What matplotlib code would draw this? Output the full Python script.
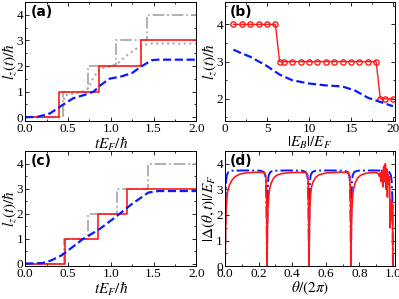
import matplotlib
matplotlib.use("Agg")
import matplotlib.pyplot as plt
from matplotlib.ticker import MultipleLocator

plt.rcParams['font.family'] = ['Liberation Serif', 'DejaVu Serif']
plt.rcParams['mathtext.fontset'] = 'stix'

# ---- panel (a) ----
a_red_t = [0, 0.40, 0.40, 0.865, 0.865, 1.35, 1.35, 2.0]
a_red_l = [0, 0, 1, 1, 2, 2, 3, 3]
a_dd_t = [0, 0.44, 0.44, 0.73, 0.73, 1.06, 1.06, 1.42, 1.42, 2.0]
a_dd_l = [0, 0, 1, 1, 2, 2, 3, 3, 4, 4]
a_dot_t = [0, 0.44, 0.46, 0.6, 0.72, 0.8, 0.87, 1.0, 1.08, 1.2, 1.33, 1.45, 2.0]
a_dot_l = [0, 0, 0.85, 0.95, 1.05, 1.55, 1.9, 2.0, 2.1, 2.45, 2.75, 2.88, 2.88]
a_blue_t = [0, 0.15, 0.29, 0.42, 0.56, 0.69, 0.8, 0.87, 0.98, 1.13, 1.25, 1.35, 1.48, 1.55, 2.0]
a_blue_l = [0, 0.02, 0.15, 0.44, 0.74, 0.87, 1.0, 1.22, 1.5, 1.6, 1.73, 1.97, 2.23, 2.25, 2.25]

# ---- panel (b) ----
b_eb = [1, 2, 3, 4, 5, 6, 6.5, 7, 8, 9, 10, 11, 12, 13, 14, 15, 16, 17, 18, 18.5, 19, 20]
b_lz = [4, 4, 4, 4, 4, 4, 3, 3, 3, 3, 3, 3, 3, 3, 3, 3, 3, 3, 3, 2, 2, 2]
b_blue_eb = [1, 2, 3, 5, 6.5, 8, 10, 12, 14, 15.5, 17, 18.3, 20]
b_blue_lz = [3.32, 3.22, 3.13, 2.88, 2.65, 2.5, 2.41, 2.36, 2.33, 2.22, 2.03, 1.93, 1.8]

# ---- panel (c) ----
c_red_t = [0, 0.47, 0.47, 0.846, 0.846, 1.19, 1.19, 2.0]
c_red_l = [0, 0, 1, 1, 2, 2, 3, 3]
c_dd_t = [0, 0.45, 0.45, 0.74, 0.74, 1.07, 1.07, 1.44, 1.44, 2.0]
c_dd_l = [0, 0, 1, 1, 2, 2, 3, 3, 4, 4]
c_blue_t = [0, 0.2, 0.3, 0.42, 0.55, 0.67, 0.87, 1.06, 1.25, 1.44, 1.56, 2.0]
c_blue_l = [0, 0.02, 0.12, 0.32, 0.65, 0.97, 1.38, 1.87, 2.39, 2.84, 2.9, 2.9]

# ---- panel (d) ----
d_red_th = [0, 0.003, 0.006, 0.01, 0.015, 0.025, 0.04, 0.06, 0.09, 0.13, 0.2, 0.235, 0.243, 0.247, 0.249, 0.25,
            0.252, 0.255, 0.26, 0.265, 0.275, 0.29, 0.31, 0.34, 0.4, 0.48, 0.49, 0.495, 0.498, 0.5,
            0.502, 0.505, 0.51, 0.515, 0.525, 0.54, 0.56, 0.6, 0.68, 0.735, 0.743, 0.747, 0.749, 0.75,
            0.752, 0.755, 0.76, 0.765, 0.775, 0.79, 0.81, 0.84, 0.88, 0.91, 0.92, 0.925, 0.93, 0.935,
            0.94, 0.945, 0.95, 0.955, 0.96, 0.963, 0.967, 0.97, 0.975, 0.98, 0.983, 0.986, 0.99, 0.993,
            0.996, 0.998, 1.0]
d_red_v = [0, 1.2, 2.1, 2.6, 2.9, 3.15, 3.35, 3.5, 3.6, 3.65, 3.67, 3.66, 3.5, 2.8, 1.5, 0,
           1.3, 2.2, 2.7, 3.0, 3.25, 3.45, 3.56, 3.62, 3.66, 3.66, 3.6, 3.3, 2.0, 0,
           1.3, 2.3, 2.8, 3.1, 3.3, 3.47, 3.57, 3.64, 3.67, 3.66, 3.5, 2.8, 1.5, 0,
           1.3, 2.2, 2.7, 3.0, 3.25, 3.45, 3.56, 3.63, 3.66, 3.64, 3.5, 3.65, 3.3, 3.75,
           3.1, 3.9, 3.3, 4.0, 3.0, 3.8, 2.7, 3.6, 3.2, 3.5, 1.5, 2.6, 1.8, 2.5,
           2.0, 2.4, 0]
d_blue_th = [0, 0.003, 0.006, 0.01, 0.02, 0.04, 0.125, 0.21, 0.23, 0.24, 0.244, 0.247, 0.25,
             0.253, 0.256, 0.26, 0.27, 0.29, 0.375, 0.46, 0.48, 0.49, 0.494, 0.497, 0.5,
             0.503, 0.506, 0.51, 0.52, 0.54, 0.625, 0.71, 0.73, 0.74, 0.744, 0.747, 0.75,
             0.753, 0.756, 0.76, 0.77, 0.79, 0.875, 0.96, 0.978, 0.988, 0.993, 0.997, 1.0]
d_blue_v = [0, 2.5, 3.3, 3.55, 3.68, 3.73, 3.74, 3.73, 3.68, 3.55, 3.3, 2.5, 0,
            2.5, 3.3, 3.55, 3.68, 3.73, 3.74, 3.73, 3.68, 3.55, 3.3, 2.5, 0,
            2.5, 3.3, 3.55, 3.68, 3.73, 3.74, 3.73, 3.68, 3.55, 3.3, 2.5, 0,
            2.5, 3.3, 3.55, 3.68, 3.73, 3.74, 3.73, 3.68, 3.55, 3.3, 2.5, 0]

RED = '#ff1a1a'
BLUE = '#0a1aff'
GRAY = '#aaaaaa'

fig = plt.figure(figsize=(3.99, 2.99), dpi=100)
ax_a = fig.add_axes([0.063, 0.595, 0.429, 0.398])
ax_b = fig.add_axes([0.564, 0.595, 0.425, 0.398])
ax_c = fig.add_axes([0.063, 0.11, 0.429, 0.385])
ax_d = fig.add_axes([0.564, 0.11, 0.425, 0.385])


def style(ax, label, xlabel, ylabel):
    ax.tick_params(which='both', direction='in', top=True, right=True,
                   labelsize=9.5, pad=1.5)
    ax.tick_params(which='major', length=3, width=0.6)
    ax.tick_params(which='minor', length=1.5, width=0.6)
    for s in ax.spines.values():
        s.set_linewidth(0.7)
    ax.set_xlabel(xlabel, fontsize=11, labelpad=-0.5)
    ax.set_ylabel(ylabel, fontsize=11, labelpad=-1)
    ax.yaxis.set_major_locator(MultipleLocator(1))
    ax.yaxis.set_minor_locator(MultipleLocator(0.5))
    ax.text(0.03, 0.975, label, transform=ax.transAxes, ha='left', va='top',
            fontsize=10, fontweight='bold', family='DejaVu Sans')


# (a)
ax_a.plot(a_dd_t, a_dd_l, color=GRAY, ls='-.', lw=1.3)
ax_a.plot(a_dot_t, a_dot_l, color=GRAY, ls=':', lw=1.5)
ax_a.plot(a_red_t, a_red_l, color=RED, lw=1.2)
ax_a.plot(a_blue_t, a_blue_l, color=BLUE, ls='--', lw=1.6)
ax_a.set_xlim(0, 2)
ax_a.set_ylim(-0.15, 4.5)
ax_a.xaxis.set_major_locator(MultipleLocator(0.5))
ax_a.xaxis.set_minor_locator(MultipleLocator(0.25))
style(ax_a, '(a)', r'$tE_F/\hbar$', r'$l_z(t)/\hbar$')

# (b)
ax_b.plot(b_eb, b_lz, color=RED, lw=1.0, marker='o', ms=3.8, mfc='none', mec=RED, mew=1.0)
ax_b.plot(b_blue_eb, b_blue_lz, color=BLUE, ls='--', lw=1.6)
ax_b.set_xlim(0, 20.2)
ax_b.set_ylim(1.4, 4.6)
ax_b.xaxis.set_major_locator(MultipleLocator(5))
ax_b.xaxis.set_minor_locator(MultipleLocator(2.5))
style(ax_b, '(b)', r'$|E_B|/E_F$', r'$l_z(t)/\hbar$')

# (c)
ax_c.plot(c_dd_t, c_dd_l, color=GRAY, ls='-.', lw=1.3)
ax_c.plot(c_red_t, c_red_l, color=RED, lw=1.2)
ax_c.plot(c_blue_t, c_blue_l, color=BLUE, ls='--', lw=1.6)
ax_c.set_xlim(0, 2)
ax_c.set_ylim(-0.1, 4.5)
ax_c.xaxis.set_major_locator(MultipleLocator(0.5))
ax_c.xaxis.set_minor_locator(MultipleLocator(0.25))
style(ax_c, '(c)', r'$tE_F/\hbar$', r'$l_z(t)/\hbar$')

# (d)
ax_d.plot(d_blue_th, d_blue_v, color=BLUE, ls='-.', lw=1.4)
ax_d.plot(d_red_th, d_red_v, color=RED, lw=1.2)
ax_d.set_xlim(0, 1.01)
ax_d.set_ylim(0, 4.5)
ax_d.xaxis.set_major_locator(MultipleLocator(0.2))
ax_d.xaxis.set_minor_locator(MultipleLocator(0.1))
style(ax_d, '(d)', r'$\theta/(2\pi)$', r'$|\Delta(\theta,t)|/E_F$')

fig.savefig('out.png', dpi=100)
